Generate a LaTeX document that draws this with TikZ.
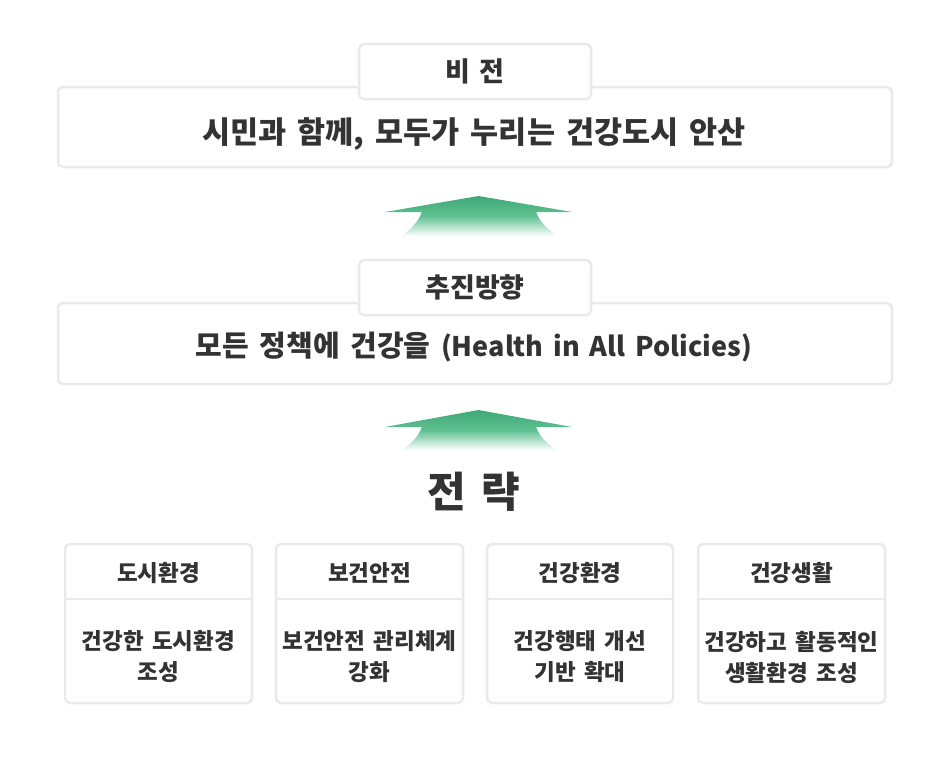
\documentclass[tikz,border=0pt]{standalone}
\usepackage{fontspec}
\setmainfont{Noto Sans CJK KR}[WordSpace=1.6]
\usetikzlibrary{positioning}
\definecolor{boxline}{HTML}{EAEAEA}
\definecolor{txt}{HTML}{333333}
\definecolor{grtop}{RGB}{62,168,118}
\definecolor{grmid}{RGB}{95,192,145}
\tikzset{
  panel/.style={draw=boxline, line width=2.5pt, fill=white, rounded corners=5pt, inner sep=0pt},
  label/.style={text=txt, font=\bfseries\fontsize{27pt}{30pt}\selectfont, inner sep=0pt},
  big/.style={text=txt, font=\bfseries\fontsize{29pt}{34pt}\selectfont, inner sep=0pt},
  head/.style={text=txt, font=\bfseries\fontsize{22.5pt}{26pt}\selectfont, inner sep=0pt},
  body/.style={text=txt, font=\bfseries\fontsize{22.5pt}{31pt}\selectfont, inner sep=0pt, align=center},
  uparrow/.style={top color=grtop, bottom color=white, middle color=grmid, draw=none}
}
\begin{document}
\begin{tikzpicture}[x=1pt,y=-1pt]
\useasboundingbox (0,0) rectangle (950,782);
\fill[white] (0,0) rectangle (950,782);
% vision
\node[panel, minimum width=834pt, minimum height=80pt] (visionbox) at (475,127) {};
\node[panel, minimum width=232pt, minimum height=55pt] (visiontab) at (475,71.5) {};
\node[label] (visionlabel) at (visiontab.center) {비 전};
\node[big, font=\bfseries\fontsize{30.5pt}{34pt}\selectfont] (visiontext) at (474,134) {시민과 함께, 모두가 누리는 건강도시 안산};
% arrow 1
\path[uparrow] (385,212) -- (478.5,196) -- (572,212) -- (536,212)
  .. controls (540,222) and (546,228) .. (557,236) -- (402,236)
  .. controls (412,228) and (418,222) .. (422,212) -- cycle;
% direction
\node[panel, minimum width=834pt, minimum height=81pt] (dirbox) at (475,343.5) {};
\node[panel, minimum width=232pt, minimum height=55pt] (dirtab) at (475,287.5) {};
\node[label] (dirlabel) at (dirtab.center) {추진방향};
\node[big] (dirtext) at (474,347) {모든 정책에 건강을 {\fontsize{27pt}{32pt}\selectfont (Health in All Policies)}};
% arrow 2
\path[uparrow] (385,427) -- (478.5,410) -- (572,427) -- (536,427)
  .. controls (540,437) and (546,443) .. (557,450) -- (402,450)
  .. controls (412,443) and (418,437) .. (422,427) -- cycle;
% strategy
\node[text=txt, font=\bfseries\fontsize{42pt}{48pt}\selectfont, inner sep=0pt] (strat) at (474,492) {전 략};
% bottom boxes
\foreach \i/\xa/\xb/\h/\la/\lb in {1/65/252/도시환경/건강한 도시환경/조성, 2/276/463/보건안전/보건안전 관리체계/강화, 3/487/673/건강환경/건강행태 개선/기반 확대, 4/698/885/건강생활/건강하고 활동적인/생활환경 조성}{
  \node[panel, minimum width={(\xb-\xa)*1pt}, minimum height=159pt] (sbox\i) at ({(\xa+\xb)/2},623.5) {};
  \coordinate (dl\i) at (\xa,599);
  \coordinate (dr\i) at (\xb,599);
  \draw[boxline, line width=2.5pt] (dl\i) -- (dr\i);
  \node[head] (shead\i) at ({(\xa+\xb)/2},573) {\h};
  \node[body] (sbody\i) at ({(\xa+\xb)/2},657) {\la\\\lb};
}
\end{tikzpicture}
\end{document}
